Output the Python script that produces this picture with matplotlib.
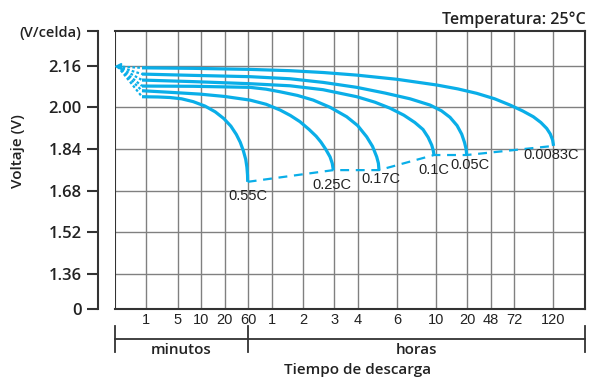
import matplotlib.pyplot as plt

# discharge curves, x in positional units of the (non-linear) time axis, y in V/cell
t_0083 = [3.45, 10, 17.25, 22.36, 26.6, 30.88, 36, 41.10, 43.8, 46.21, 48.5, 50.46, 52.1,
          53.44, 54.4, 55.15, 55.6, 55.9, 56.02]
v_0083 = [2.152, 2.150, 2.146, 2.141, 2.134, 2.124, 2.108, 2.086, 2.071, 2.054, 2.033, 2.009, 1.986,
          1.964, 1.942, 1.919, 1.898, 1.875, 1.852]
t_005 = [3.45, 10, 17.25, 22.36, 26.6, 30.88, 34.5, 37.69, 40.24, 41.7, 42.79, 43.7, 44.29,
         44.65, 44.85, 44.93]
v_005 = [2.128, 2.123, 2.118, 2.110, 2.096, 2.077, 2.055, 2.033, 2.009, 1.987, 1.962, 1.930, 1.897,
         1.865, 1.840, 1.817]
t_01 = [3.45, 10, 17.25, 22.36, 26.57, 30.88, 33.2, 35.13, 36.9, 38.3, 39.35, 40.0, 40.46, 40.65, 40.75]
v_01 = [2.105, 2.099, 2.091, 2.083, 2.068, 2.041, 2.020, 1.997, 1.970, 1.942, 1.915, 1.885, 1.855, 1.835, 1.817]
t_017 = [3.45, 10, 17.25, 19.3, 21.08, 23.3, 25.33, 27.5, 29.6, 31.0, 32.15, 32.9, 33.43, 33.65, 33.72]
v_017 = [2.082, 2.081, 2.077, 2.070, 2.060, 2.046, 2.028, 2.000, 1.964, 1.930, 1.887, 1.850, 1.810, 1.785, 1.759]
t_025 = [3.45, 7, 10.86, 14, 17.25, 19.3, 21.08, 22.4, 23.63, 24.8, 25.7, 26.3, 26.9, 27.47, 27.75, 27.89]
v_025 = [2.064, 2.058, 2.051, 2.042, 2.028, 2.012, 1.990, 1.969, 1.945, 1.915, 1.889, 1.867, 1.840, 1.810, 1.785, 1.759]
t_055 = [3.45, 5.5, 7.0, 8.5, 10.0, 11.5, 12.8, 13.9, 14.8, 15.5, 16.0, 16.4, 16.7, 16.85, 16.93, 16.95]
v_055 = [2.041, 2.040, 2.038, 2.033, 2.022, 2.005, 1.983, 1.957, 1.928, 1.896, 1.866, 1.833, 1.800, 1.770, 1.740, 1.714]

rates = ['0.55C', '0.25C', '0.17C', '0.1C', '0.05C', '0.0083C']
curves_t = [t_055, t_025, t_017, t_01, t_005, t_0083]
curves_v = [v_055, v_025, v_017, v_01, v_005, v_0083]
label_t = [16.99, 27.68, 33.91, 40.75, 45.35, 55.70]
label_v = [1.659, 1.701, 1.723, 1.759, 1.778, 1.817]

# axis ticks
x_tick_pos = [4, 8, 11, 14, 17, 20, 24, 28, 31, 36, 41, 45, 48, 51, 56]
x_tick_lab = ['1', '5', '10', '20', '60', '1', '2', '3', '4', '6', '10', '20', '48', '72', '120']
y_grid = [1.36, 1.52, 1.68, 1.84, 2.00, 2.16]
y_zero = 1.2254   # where the "0" label sits (broken axis)
y_top = 2.2935

blue = '#0AAEE8'
dark = '#333333'
grid_c = '#808080'
tfont = 'Open Sans'
nfont = 'Liberation Sans'

fig = plt.figure(figsize=(5.89, 3.81), dpi=100)
ax = fig.add_axes([115 / 589, 72 / 381, 469.7 / 589, 278 / 381])
ax.set_xlim(0, 60)
ax.set_ylim(y_zero, y_top)

for p in x_tick_pos:
    ax.axvline(p, color=grid_c, lw=1, zorder=1)
for v in y_grid:
    ax.axhline(v, color=grid_c, lw=1, zorder=1)
ax.axvline(0, color=dark, lw=1.5, zorder=2)

for s in ['top', 'right', 'bottom']:
    ax.spines[s].set_color(dark)
    ax.spines[s].set_linewidth(1.5)
ax.spines['left'].set_position(('outward', 12))
ax.spines['left'].set_color(dark)
ax.spines['left'].set_linewidth(1.5)

ax.set_xticks(x_tick_pos)
ax.set_xticklabels(x_tick_lab, fontfamily=nfont, fontsize=10.5, color='#222222')
ax.tick_params(axis='x', length=0, pad=3)

ax.set_yticks([y_zero] + y_grid + [y_top])
ax.set_yticklabels(['0', '1.36', '1.52', '1.68', '1.84', '2.00', '2.16', '(V/celda)'],
                   fontfamily=tfont, fontweight='semibold', fontsize=12, color='#222222')
ax.get_yticklabels()[-1].set_fontsize(10.5)
ax.tick_params(axis='y', direction='out', length=8, width=1.5, color=dark, pad=4)

# discharge curves
for t, v in zip(curves_t, curves_v):
    ax.plot(t, v, color=blue, lw=2.3, solid_capstyle='butt', solid_joinstyle='round', zorder=4)
    ax.plot([0.35, t[0]], [2.157, v[0]], color=blue, lw=1.6, ls=(0, (1.2, 1.0)), zorder=3)
ax.plot([0.35], [2.158], marker='<', color=blue, ms=4.5, zorder=4)

# end-of-discharge dashed line
end_t = [t[-1] for t in curves_t]
end_v = [v[-1] for v in curves_v]
ax.plot(end_t, end_v, color=blue, lw=1.6, ls=(0, (4, 3)), zorder=3)

for r, lt, lv in zip(rates, label_t, label_v):
    ax.text(lt, lv, r, ha='center', va='center', fontfamily=nfont, fontsize=10.5, color='#222222')

# bracket under the time axis
tr = ax.get_xaxis_transform()
ax.plot([0, 60], [-0.109, -0.109], color=dark, lw=1.3, transform=tr, clip_on=False)
for p in [0, 17, 60]:
    ax.plot([p, p], [-0.061, -0.155], color=dark, lw=1.3, transform=tr, clip_on=False)
ax.text(8.5, -0.147, 'minutos', transform=tr, ha='center', va='center',
        fontfamily=tfont, fontweight='semibold', fontsize=11, color='#222222')
ax.text(38.5, -0.147, 'horas', transform=tr, ha='center', va='center',
        fontfamily=tfont, fontweight='semibold', fontsize=11, color='#222222')

fig.text(357.5 / 589, 1 - 370 / 381, 'Tiempo de descarga', ha='center', va='center',
         fontfamily=tfont, fontweight='semibold', fontsize=11, color='#222222')
fig.text(585.5 / 589, 1 - 20 / 381, 'Temperatura: 25°C', ha='right', va='center',
         fontfamily=tfont, fontweight='semibold', fontsize=11.5, color='#222222')
fig.text(18.5 / 589, 1 - 151.5 / 381, 'Voltaje (V)', ha='center', va='center', rotation=90,
         fontfamily=tfont, fontweight='semibold', fontsize=11, color='#222222')

fig.savefig('out.png', dpi=100)
